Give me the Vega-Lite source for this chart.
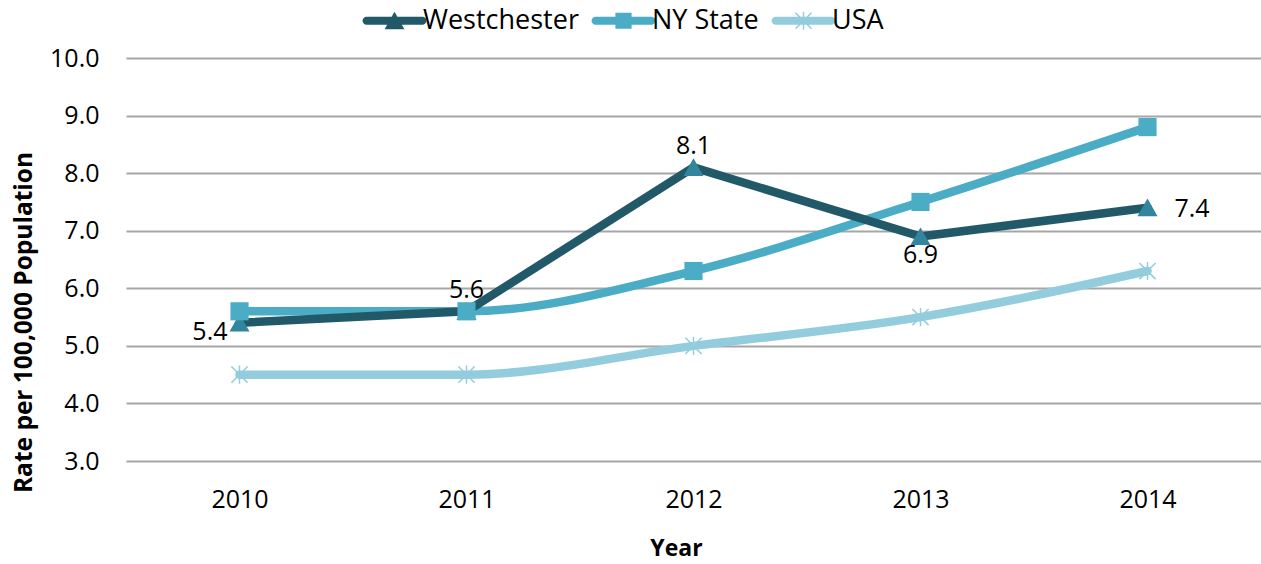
{
  "$schema": "https://vega.github.io/schema/vega-lite/v6.json",
  "width": 1135,
  "height": 403,
  "autosize": "none",
  "padding": {"left": 126, "top": 58, "right": 0, "bottom": 103},
  "background": "white",
  "config": {"font": "Open Sans", "view": {"stroke": null}},
  "data": {
    "values": [
      {"year": "2010", "series": "Westchester", "value": 5.4},
      {"year": "2011", "series": "Westchester", "value": 5.6},
      {"year": "2012", "series": "Westchester", "value": 8.1},
      {"year": "2013", "series": "Westchester", "value": 6.9},
      {"year": "2014", "series": "Westchester", "value": 7.4},
      {"year": "2010", "series": "NY State", "value": 5.6},
      {"year": "2011", "series": "NY State", "value": 5.6},
      {"year": "2012", "series": "NY State", "value": 6.3},
      {"year": "2013", "series": "NY State", "value": 7.5},
      {"year": "2014", "series": "NY State", "value": 8.8},
      {"year": "2010", "series": "USA", "value": 4.5},
      {"year": "2011", "series": "USA", "value": 4.5},
      {"year": "2012", "series": "USA", "value": 5.0},
      {"year": "2013", "series": "USA", "value": 5.5},
      {"year": "2014", "series": "USA", "value": 6.3}
    ]
  },
  "encoding": {
    "x": {
      "field": "year", "type": "ordinal",
      "scale": {"type": "point", "padding": 0.5},
      "axis": {
        "title": "Year", "titleFontSize": 23, "titleFontWeight": "bold", "titleColor": "#000",
        "titleX": 550, "titleY": 87, "titleBaseline": "middle",
        "labelAngle": 0, "labelFontSize": 25, "labelColor": "#000", "labelPadding": 26,
        "domain": false, "ticks": false, "grid": false
      }
    },
    "y": {
      "field": "value", "type": "quantitative",
      "scale": {"domain": [3, 10], "nice": false, "zero": false},
      "axis": {
        "title": "Rate per 100,000 Population", "titleFontSize": 24.5, "titleFontWeight": "bold", "titleColor": "#000",
        "titleX": -102, "titleY": 264, "titleBaseline": "middle", "titleAngle": -90,
        "values": [3, 4, 5, 6, 7, 8, 9, 10], "format": ".1f",
        "labelFontSize": 25, "labelColor": "#000", "labelPadding": 27,
        "domain": false, "ticks": false,
        "grid": true, "gridColor": "#A6A6A6", "gridWidth": 2
      }
    }
  },
  "layer": [
    {
      "transform": [{"filter": "datum.series !== 'Westchester'"}],
      "mark": {"type": "line", "strokeWidth": 8.5, "interpolate": "monotone", "strokeCap": "round"},
      "encoding": {
        "color": {"field": "series", "type": "nominal",
          "scale": {"domain": ["Westchester", "NY State", "USA"], "range": ["#215968", "#4BACC6", "#93CDDD"]},
          "legend": null}
      }
    },
    {
      "transform": [{"filter": "datum.series === 'Westchester'"}],
      "mark": {"type": "line", "strokeWidth": 8.5, "interpolate": "linear", "strokeCap": "round", "strokeJoin": "round"},
      "encoding": {
        "color": {"field": "series", "type": "nominal",
          "scale": {"domain": ["Westchester", "NY State", "USA"], "range": ["#215968", "#4BACC6", "#93CDDD"]},
          "legend": null}
      }
    },
    {
      "mark": {"type": "point", "filled": true, "opacity": 1, "strokeWidth": 0},
      "encoding": {
        "shape": {"field": "series", "type": "nominal",
          "scale": {"domain": ["Westchester", "NY State", "USA"],
            "range": [
              "M0,-1 L1.1,0.95 L-1.1,0.95 Z",
              "square",
              "M-0.83,-0.95 L0.95,0.83 L0.83,0.95 L-0.95,-0.83 Z M0.83,-0.95 L0.95,-0.83 L-0.83,0.95 L-0.95,0.83 Z M-0.08,-1 H0.08 V1 H-0.08 Z"
            ]},
          "legend": null},
        "fill": {"field": "series", "type": "nominal",
          "scale": {"domain": ["Westchester", "NY State", "USA"], "range": ["#31859C", "#4BACC6", "#93CDDD"]},
          "legend": null},
        "size": {"value": 330}
      }
    },
    {
      "transform": [{"filter": "datum.year === '2010'"}],
      "mark": {"type": "point", "filled": true, "opacity": 0, "strokeWidth": 0},
      "encoding": {
        "shape": {"field": "series", "type": "nominal",
          "scale": {"domain": ["Westchester", "NY State", "USA"],
            "range": [
              "M-3.1,-0.45 H3.1 A0.45,0.45 0 0 1 3.1,0.45 H-3.1 A0.45,0.45 0 0 1 -3.1,-0.45 Z M0,-1 L1.1,0.95 L-1.1,0.95 Z",
              "M-3.1,-0.45 H3.1 A0.45,0.45 0 0 1 3.1,0.45 H-3.1 A0.45,0.45 0 0 1 -3.1,-0.45 Z M-0.9,-0.9 H0.9 V0.9 H-0.9 Z",
              "M-3.1,-0.45 H3.1 A0.45,0.45 0 0 1 3.1,0.45 H-3.1 A0.45,0.45 0 0 1 -3.1,-0.45 Z M-0.83,-0.95 L0.95,0.83 L0.83,0.95 L-0.95,-0.83 Z M0.83,-0.95 L0.95,-0.83 L-0.83,0.95 L-0.95,0.83 Z M-0.08,-1 H0.08 V1 H-0.08 Z"
            ]},
          "legend": {"title": null, "orient": "none", "legendX": 255, "legendY": -51, "direction": "horizontal",
            "symbolSize": 324, "labelOffset": 15, "columnPadding": 12, "labelFontSize": 27, "labelColor": "#000",
            "symbolOpacity": 1, "symbolStrokeWidth": 0, "padding": 0}},
        "fill": {"field": "series", "type": "nominal",
          "scale": {"domain": ["Westchester", "NY State", "USA"], "range": ["#215968", "#4BACC6", "#93CDDD"]},
          "legend": {"title": null, "orient": "none", "legendX": 255, "legendY": -51, "direction": "horizontal",
            "symbolSize": 324, "labelOffset": 15, "columnPadding": 12, "labelFontSize": 27, "labelColor": "#000",
            "symbolOpacity": 1, "symbolStrokeWidth": 0, "padding": 0}}
      }
    },
    {
      "transform": [{"filter": "datum.series === 'Westchester' && datum.year === '2010'"}],
      "mark": {"type": "text", "align": "right", "baseline": "middle", "dx": -12, "dy": 9, "fontSize": 25, "color": "#000"},
      "encoding": {"text": {"field": "value", "type": "quantitative", "format": ".1f"}}
    },
    {
      "transform": [{"filter": "datum.series === 'Westchester' && (datum.year === '2011' || datum.year === '2012')"}],
      "mark": {"type": "text", "align": "center", "baseline": "middle", "dy": -21, "fontSize": 25, "color": "#000"},
      "encoding": {"text": {"field": "value", "type": "quantitative", "format": ".1f"}}
    },
    {
      "transform": [{"filter": "datum.series === 'Westchester' && datum.year === '2013'"}],
      "mark": {"type": "text", "align": "center", "baseline": "middle", "dy": 19, "fontSize": 25, "color": "#000"},
      "encoding": {"text": {"field": "value", "type": "quantitative", "format": ".1f"}}
    },
    {
      "transform": [{"filter": "datum.series === 'Westchester' && datum.year === '2014'"}],
      "mark": {"type": "text", "align": "left", "baseline": "middle", "dx": 27, "dy": 1, "fontSize": 25, "color": "#000"},
      "encoding": {"text": {"field": "value", "type": "quantitative", "format": ".1f"}}
    }
  ],
  "resolve": {"scale": {"shape": "independent", "fill": "independent"}}
}
